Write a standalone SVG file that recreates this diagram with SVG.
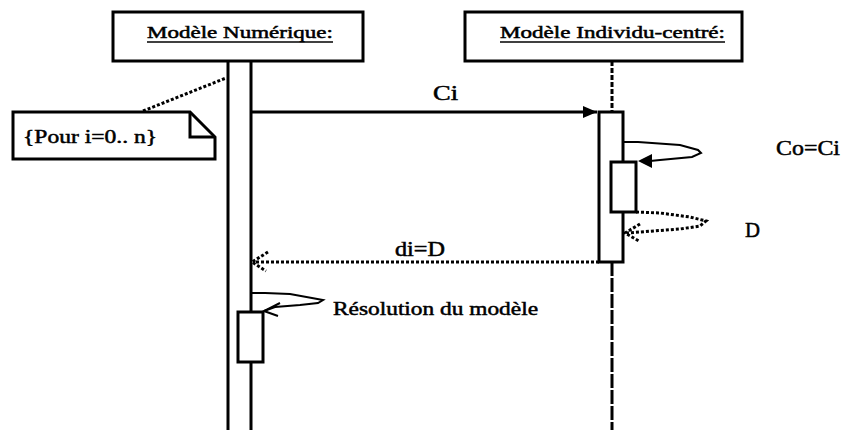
<svg xmlns="http://www.w3.org/2000/svg" width="843" height="430" viewBox="0 0 843 430">
<style>
.box{fill:#fff;stroke:#000;stroke-width:3}
.ln{fill:none;stroke:#000;stroke-width:3}
.thin{fill:none;stroke:#000;stroke-width:2}
.dot{fill:none;stroke:#000;stroke-width:3;stroke-dasharray:3 2}
.t{font-family:"Liberation Serif","Times New Roman",serif;fill:#000;stroke:#000;stroke-width:0.5}
</style>
<rect width="843" height="430" fill="#fff"/>
<g id="lifeline-numerique">
<rect class="box" x="113" y="12" width="250" height="49"/>
<text class="t" x="147" y="38" font-size="17" textLength="186" lengthAdjust="spacingAndGlyphs">Modèle Numérique:</text>
<line x1="147" y1="42" x2="333" y2="42" stroke="#000" stroke-width="1.5"/>
<line class="ln" x1="228" y1="61" x2="228" y2="430"/>
<line class="ln" x1="251" y1="61" x2="251" y2="430"/>
</g>
<g id="lifeline-individu">
<rect class="box" x="465" y="12" width="277" height="49"/>
<text class="t" x="500" y="38" font-size="17" textLength="225" lengthAdjust="spacingAndGlyphs">Modèle Individu-centré:</text>
<line x1="500" y1="42" x2="725" y2="42" stroke="#000" stroke-width="1.5"/>
<line x1="612" y1="61" x2="612" y2="112" stroke="#000" stroke-width="3" stroke-dasharray="5 2"/>
<line x1="612" y1="262" x2="612" y2="430" stroke="#000" stroke-width="3" stroke-dasharray="14 2"/>
</g>
<g id="activation-individu">
<rect class="box" x="599" y="112" width="24" height="150"/>
</g>
<g id="activation-individu-nested">
<rect class="box" x="611" y="162" width="25" height="50"/>
</g>
<g id="note">
<path class="box" d="M13,112 L190,112 L215,137 L215,159 L13,159 Z"/>
<path class="ln" d="M190,112 L190,137 L215,137"/>
<text class="t" x="23" y="143" font-size="19" textLength="134" lengthAdjust="spacingAndGlyphs">{Pour i=0.. n}</text>
</g>
<g id="connectors">
<line class="dot" x1="143" y1="111" x2="226" y2="78"/>
<line class="ln" x1="251" y1="112" x2="597" y2="112"/>
<polygon points="583,106 597,112 583,118" fill="#000"/>
<text class="t" x="433" y="100" font-size="20" textLength="25" lengthAdjust="spacingAndGlyphs">Ci</text>
<path class="thin" d="M623,142 L638,142 L680,145 L698,150 L701,153 L692,157 L660,160 L650,161"/>
<polygon points="638,161 652,154 652,168" fill="#000"/>
<path class="dot" stroke-width="2.5" d="M636,212 L660,213 L690,217 L706,221 L700,226 L680,229 L640,232 L627,233"/>
<path class="dot" stroke-width="2.5" d="M640,224 L625,233 L639,241"/>
<line class="dot" x1="599" y1="262" x2="254" y2="262" stroke-width="2.5"/>
<path class="dot" stroke-width="2.5" d="M268,252 L252,262 L266,271"/>
<text class="t" x="395" y="256" font-size="20" textLength="50" lengthAdjust="spacingAndGlyphs">di=D</text>
<path class="thin" d="M251,293 L265,293 L290,294 L323,300 L318,303 L300,305 L275,307 L264,311"/>
<path class="thin" d="M280,303 L264,311 L278,316"/>
</g>
<g id="activation-numerique-nested">
<rect class="box" x="238" y="312" width="25" height="50"/>
</g>
<g id="labels">
<text class="t" x="776" y="155" font-size="22" textLength="64" lengthAdjust="spacingAndGlyphs">Co=Ci</text>
<text class="t" x="745" y="237" font-size="22" textLength="15" lengthAdjust="spacingAndGlyphs">D</text>
<text class="t" x="333" y="315" font-size="19" textLength="205" lengthAdjust="spacingAndGlyphs">Résolution du modèle</text>
</g>
</svg>
